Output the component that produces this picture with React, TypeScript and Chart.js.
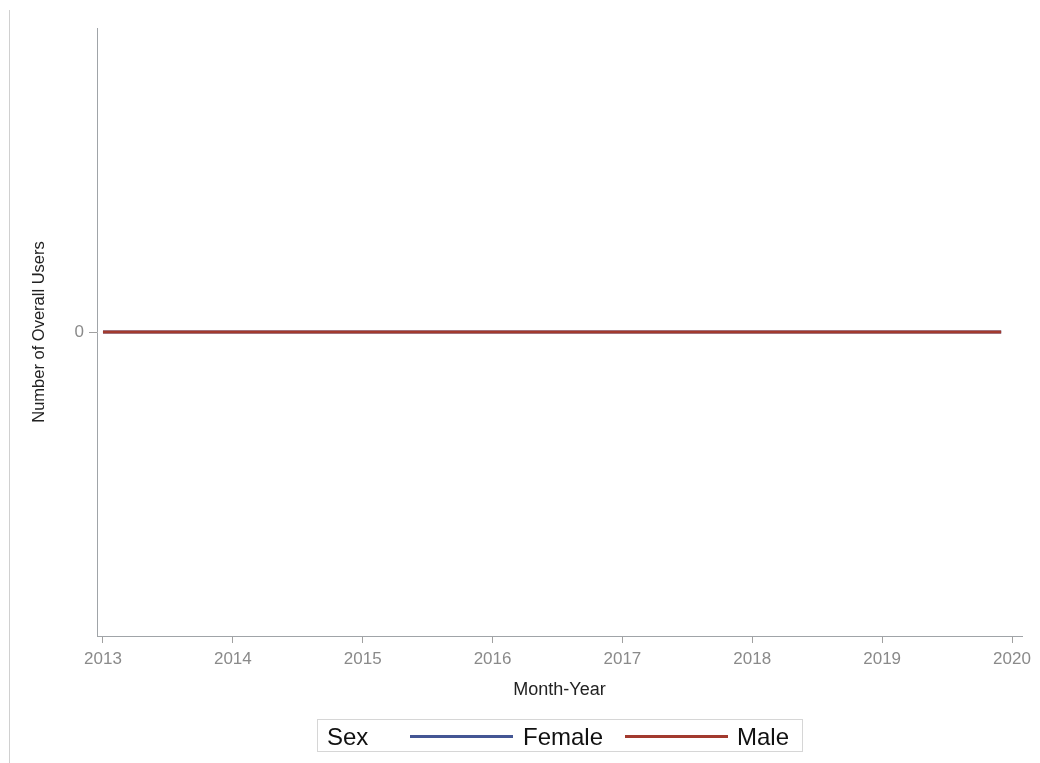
import React, { useEffect, useRef } from "react";
import { Chart, registerables } from "chart.js";

Chart.register(...registerables);

// ---- data ----
const years = [2013, 2014, 2015, 2016, 2017, 2018, 2019];
const monthsOfYear = [1, 2, 3, 4, 5, 6, 7, 8, 9, 10, 11, 12];
const femaleUsers = [
  0, 0, 0, 0, 0, 0, 0, 0, 0, 0, 0, 0,
  0, 0, 0, 0, 0, 0, 0, 0, 0, 0, 0, 0,
  0, 0, 0, 0, 0, 0, 0, 0, 0, 0, 0, 0,
  0, 0, 0, 0, 0, 0, 0, 0, 0, 0, 0, 0,
  0, 0, 0, 0, 0, 0, 0, 0, 0, 0, 0, 0,
  0, 0, 0, 0, 0, 0, 0, 0, 0, 0, 0, 0,
  0, 0, 0, 0, 0, 0, 0, 0, 0, 0, 0, 0,
];
const maleUsers = [
  0, 0, 0, 0, 0, 0, 0, 0, 0, 0, 0, 0,
  0, 0, 0, 0, 0, 0, 0, 0, 0, 0, 0, 0,
  0, 0, 0, 0, 0, 0, 0, 0, 0, 0, 0, 0,
  0, 0, 0, 0, 0, 0, 0, 0, 0, 0, 0, 0,
  0, 0, 0, 0, 0, 0, 0, 0, 0, 0, 0, 0,
  0, 0, 0, 0, 0, 0, 0, 0, 0, 0, 0, 0,
  0, 0, 0, 0, 0, 0, 0, 0, 0, 0, 0, 0,
];
const xTickYears = [2013, 2014, 2015, 2016, 2017, 2018, 2019, 2020];
const yTickValues = [0];
const xAxisMin = 2012.954;
const xAxisMax = 2020.077;
const yAxisMin = -1;
const yAxisMax = 1;

const FONT = "'Liberation Sans', Arial, Helvetica, sans-serif";
const BLUE = "#445694";
const RED = "#A23A2E";

export default function App() {
  const canvasRef = useRef<HTMLCanvasElement | null>(null);

  useEffect(() => {
    if (!canvasRef.current) return;
    const monthDates: number[] = [];
    years.forEach((y) => monthsOfYear.forEach((m) => monthDates.push(y + (m - 1) / 12)));
    const toPoints = (vals: number[]) => vals.map((v, i) => ({ x: monthDates[i], y: v }));

    const chart = new Chart(canvasRef.current, {
      type: "line",
      data: {
        datasets: [
          {
            label: "Female",
            data: toPoints(femaleUsers),
            borderColor: BLUE,
            backgroundColor: BLUE,
            borderWidth: 3,
            pointRadius: 0,
            borderCapStyle: "butt",
            order: 1,
          },
          {
            label: "Male",
            data: toPoints(maleUsers),
            borderColor: RED,
            backgroundColor: RED,
            borderWidth: 3,
            pointRadius: 0,
            borderCapStyle: "butt",
            order: 0,
          },
        ],
      },
      options: {
        animation: false,
        responsive: true,
        maintainAspectRatio: false,
        layout: { padding: { left: 0, top: 28, right: 18, bottom: 57 } },
        plugins: {
          legend: { display: false },
          tooltip: { enabled: false },
        },
        scales: {
          x: {
            type: "linear",
            min: xAxisMin,
            max: xAxisMax,
            afterBuildTicks: (axis: any) => {
              axis.ticks = xTickYears.map((v) => ({ value: v }));
            },
            afterFit: (s: any) => {
              s.height = 70;
            },
            ticks: {
              color: "#8a8a8a",
              font: { size: 17, family: FONT },
              padding: 6,
              autoSkip: false,
              maxRotation: 0,
              callback: (v: any) => String(v),
            },
            grid: {
              display: true,
              drawOnChartArea: false,
              drawTicks: true,
              tickLength: 7,
              color: "#a0a0a0",
            },
            border: { display: true, color: "#a0a4a8", width: 1 },
            title: {
              display: true,
              text: "Month-Year",
              color: "#222",
              font: { size: 18, family: FONT },
              padding: { top: 0, bottom: 5 },
            },
          },
          y: {
            type: "linear",
            min: yAxisMin,
            max: yAxisMax,
            afterBuildTicks: (axis: any) => {
              axis.ticks = yTickValues.map((v) => ({ value: v }));
            },
            afterFit: (s: any) => {
              s.width = 97;
            },
            ticks: {
              color: "#8a8a8a",
              font: { size: 17, family: FONT },
              padding: 5,
              callback: (v: any) => String(v),
            },
            grid: {
              display: true,
              drawOnChartArea: false,
              drawTicks: true,
              tickLength: 8,
              color: "#a0a0a0",
            },
            border: { display: true, color: "#a0a4a8", width: 1 },
            title: {
              display: true,
              text: "Number of Overall Users",
              color: "#222",
              font: { size: 16.5, family: FONT },
              padding: { top: 29.6, bottom: 0 },
            },
          },
        },
      },
    });
    return () => chart.destroy();
  }, []);

  const legendText: React.CSSProperties = {
    position: "absolute",
    top: 0,
    height: 31,
    lineHeight: "33px",
    fontSize: 24,
    fontFamily: FONT,
    color: "#111",
    whiteSpace: "nowrap",
  };

  return (
    <div style={{ position: "absolute", left: 0, top: 0, width: 1040, height: 763, background: "#fff", overflow: "hidden" }}>
      <div style={{ position: "absolute", left: 9, top: 10, width: 1, height: 753, background: "#d0d0d0" }} />
      <canvas ref={canvasRef} style={{ position: "absolute", left: 0, top: 0, width: 1040, height: 763 }} />
      <div
        style={{
          position: "absolute",
          left: 317,
          top: 719,
          width: 486,
          height: 33,
          border: "1px solid #d6d6d6",
          boxSizing: "border-box",
        }}
      >
        <span style={{ ...legendText, left: 9 }}>Sex</span>
        <div style={{ position: "absolute", left: 92, top: 15, width: 103, height: 3, background: BLUE }} />
        <span style={{ ...legendText, left: 205 }}>Female</span>
        <div style={{ position: "absolute", left: 307, top: 15, width: 103, height: 3, background: RED }} />
        <span style={{ ...legendText, left: 419 }}>Male</span>
      </div>
    </div>
  );
}
